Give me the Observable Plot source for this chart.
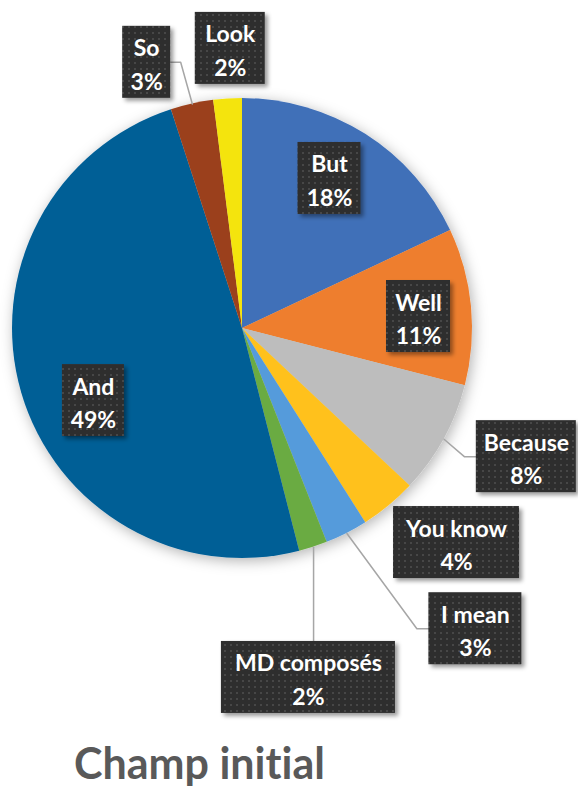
<!DOCTYPE html>
<html><head><meta charset="utf-8">
<script src="https://cdn.jsdelivr.net/npm/d3@7"></script>
<script src="https://cdn.jsdelivr.net/npm/@observablehq/plot@0.6"></script>
<style>
body{margin:0;background:#fff;}
#title{font-family:Lato,sans-serif;font-weight:bold;font-size:43px;color:#595959;margin-left:74px;line-height:50px;padding-top:8px;font-variant-ligatures:none;font-feature-settings:"liga" 0;}
svg text{font-variant-ligatures:none;}
</style></head><body>
<div id="chart"></div>
<div id="title">Champ initial</div>
<script>
// ---- data ----
const categories = ["But","Well","Because","You know","I mean","MD composés","And","So","Look"];
const percents = [18,11,8,4,3,2,49,3,2];
const colors = ["#4170B8","#EE7E2D","#BDBDBD","#FFC11F","#559BDB","#6BAB43","#005F96","#9B411C","#F4E40F"];

// ---- layout (not data) ----
const W = 578, H = 730, CX = 242, CY = 328, R = 230, boxH = 72;
const labelLayout = [
  {angle:30.1,  dist:0.754, w:63,  leader:null},
  {angle:86.1,  dist:0.767, w:64,  leader:null},
  {angle:114.3, dist:1.354, w:100, leader:"left"},
  {angle:135,   dist:1.316, w:126, leader:null},
  {angle:142.2, dist:1.652, w:93,  leader:"left"},
  {angle:169.3, dist:1.544, w:174, leader:"top"},
  {angle:244.2, dist:0.72,  w:62,  leader:null},
  {angle:340.2, dist:1.23,  w:48,  leader:"right"},
  {angle:357.5, dist:1.219, w:70,  leader:null}
];

const data = categories.map((name,i)=>({name, value:percents[i], color:colors[i]}));
const pieData = d3.pie().sort(null).value(d=>d.value)(data);

const labels = data.map((d,i)=>{
  const L = labelLayout[i], a = L.angle*Math.PI/180;
  const x = CX + R*L.dist*Math.sin(a), y = CY - R*L.dist*Math.cos(a);
  return {...d, x, y, x1:x-L.w/2, x2:x+L.w/2, y1:y-boxH/2, y2:y+boxH/2, leader:L.leader,
          text:`${d.name}\n${d.value}%`};
});

const leaders = [];
labels.forEach((l,i)=>{
  if(!l.leader) return;
  const p = pieData[i], m = (p.startAngle+p.endAngle)/2;
  const ex = CX + R*Math.sin(m), ey = CY - R*Math.cos(m);
  let pts;
  if(l.leader==="left") pts = [[ex,ey],[l.x1-12,l.y],[l.x1,l.y]];
  else if(l.leader==="right") pts = [[ex,ey],[l.x2+10,l.y],[l.x2,l.y]];
  else pts = [[ex,ey],[ex,l.y1]];
  pts.forEach(([x,y])=>leaders.push({name:l.name,x,y}));
});

function pieMark(index, scales){
  const g = d3.create("svg:g").attr("filter","url(#pieShadow)");
  const cx = scales.x(CX), cy = scales.y(CY), r = scales.x(CX+R)-scales.x(CX);
  const arc = d3.arc().innerRadius(0).outerRadius(r);
  g.selectAll("path").data(pieData).join("path")
    .attr("transform",`translate(${cx},${cy})`)
    .attr("d",arc)
    .attr("fill",d=>d.data.color);
  return g.node();
}

const chart = Plot.plot({
  width: W, height: H, margin: 0,
  x: {domain:[0,W], range:[0,W], axis:null},
  y: {domain:[0,H], range:[0,H], axis:null},
  marks: [
    pieMark,
    Plot.line(leaders, {x:"x", y:"y", z:"name", stroke:"#A6A6A6", strokeWidth:1.5}),
    Plot.rect(labels, {x1:"x1", x2:"x2", y1:"y1", y2:"y2", fill:"url(#dots)"}),
    Plot.text(labels, {x:"x", y:"y", text:"text", fill:"white", fontSize:23, fontWeight:"bold",
      fontFamily:"Lato, sans-serif", lineHeight:1.45, lineAnchor:"middle", textAnchor:"middle"})
  ]
});

const svg = d3.select(chart);
const defs = svg.insert("defs", ":first-child");
const pat = defs.append("pattern").attr("id","dots").attr("width",6).attr("height",6).attr("patternUnits","userSpaceOnUse");
pat.append("rect").attr("width",6).attr("height",6).attr("fill","#2E2E2E");
pat.append("rect").attr("x",2).attr("y",2).attr("width",2).attr("height",2).attr("fill","#474747");
const f1 = defs.append("filter").attr("id","pieShadow").attr("x","-20%").attr("y","-20%").attr("width","140%").attr("height","140%");
f1.append("feDropShadow").attr("dx",2).attr("dy",3).attr("stdDeviation",7).attr("flood-color","#000").attr("flood-opacity",0.3);
const f2 = defs.append("filter").attr("id","boxShadow").attr("x","-20%").attr("y","-20%").attr("width","150%").attr("height","150%");
f2.append("feDropShadow").attr("dx",3).attr("dy",3).attr("stdDeviation",2).attr("flood-color","#000").attr("flood-opacity",0.4);
svg.selectAll('g[aria-label="rect"]').attr("filter","url(#boxShadow)");

document.getElementById("chart").appendChild(chart);
</script>
</body></html>
